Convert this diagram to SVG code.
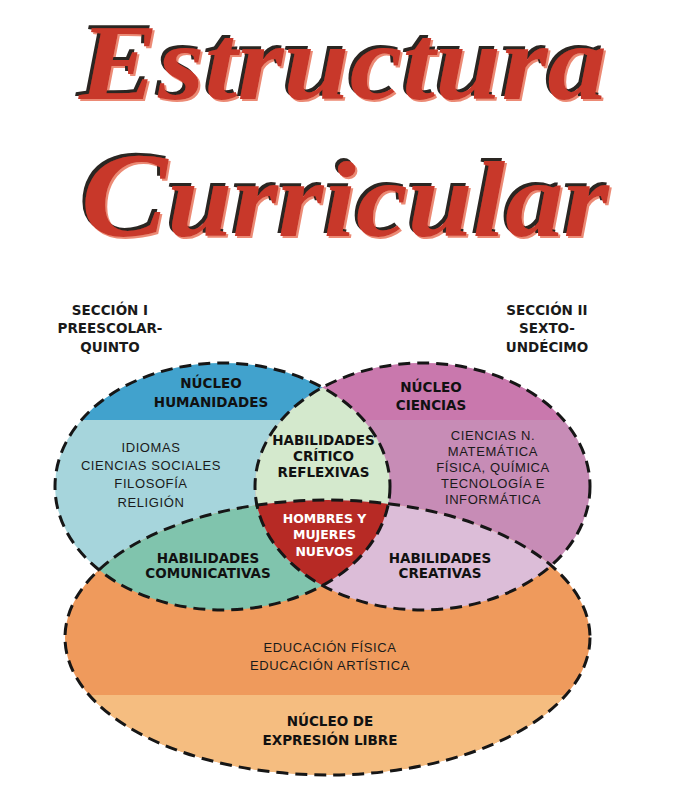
<svg xmlns="http://www.w3.org/2000/svg" width="680" height="797" viewBox="0 0 680 797">
<style>
.title{font-family:"Liberation Serif",serif;font-weight:bold;font-style:italic;font-size:108px;fill:#c8392a;filter:url(#sh)}
.sec{font-family:"DejaVu Sans","Liberation Sans",sans-serif;font-weight:bold;font-size:13.5px;fill:#1a1a1a;text-anchor:middle}
.hd{font-family:"DejaVu Sans","Liberation Sans",sans-serif;font-weight:bold;font-size:13.5px;fill:#111;text-anchor:middle}
.bd{font-family:"Liberation Sans",sans-serif;font-size:13px;letter-spacing:0.6px;fill:#1a1a1a;text-anchor:middle}
.wt{font-family:"DejaVu Sans","Liberation Sans",sans-serif;font-weight:bold;font-size:12.5px;fill:#fff;text-anchor:middle}
.dash{fill:none;stroke:#161616;stroke-width:3;stroke-dasharray:12 7}
</style>
<defs>
<filter id="sh" x="-5%" y="-10%" width="110%" height="125%">
<feOffset in="SourceAlpha" dx="2" dy="2" result="o2"/>
<feFlood flood-color="#ec8a74" result="f2"/>
<feComposite in="f2" in2="o2" operator="in" result="s2"/>
<feOffset in="SourceAlpha" dx="-3" dy="-3" result="o1"/>
<feFlood flood-color="#2b2522" result="f1"/>
<feComposite in="f1" in2="o1" operator="in" result="s1"/>
<feMerge><feMergeNode in="s2"/><feMergeNode in="s1"/><feMergeNode in="SourceGraphic"/></feMerge>
</filter>
<clipPath id="cL"><ellipse cx="222.5" cy="486.5" rx="167.5" ry="123.5"/></clipPath>
<clipPath id="cR"><ellipse cx="422.5" cy="486.5" rx="167.5" ry="123.5"/></clipPath>
<clipPath id="cB"><ellipse cx="327.5" cy="637.5" rx="262.5" ry="137.5"/></clipPath>
</defs>
<rect width="680" height="797" fill="#fff"/>
<g id="title">
<text class="title" x="79" y="99" textLength="528" lengthAdjust="spacingAndGlyphs">Estructura</text>
<text class="title" x="81" y="236" textLength="528" lengthAdjust="spacingAndGlyphs"><tspan font-size="120">C</tspan>urricular</text>
</g>
<g id="seccion-1">
<text class="sec" x="110" y="315">SECCIÓN I</text>
<text class="sec" x="110" y="333">PREESCOLAR-</text>
<text class="sec" x="110" y="352">QUINTO</text>
</g>
<g id="seccion-2">
<text class="sec" x="547" y="315">SECCIÓN II</text>
<text class="sec" x="547" y="333">SEXTO-</text>
<text class="sec" x="547" y="352">UNDÉCIMO</text>
</g>
<g id="nucleo-humanidades">
<ellipse cx="222.5" cy="486.5" rx="167.5" ry="123.5" fill="#a6d5dc"/>
<rect x="40" y="350" width="360" height="70" fill="#41a2cd" clip-path="url(#cL)"/>
</g>
<g id="nucleo-ciencias">
<ellipse cx="422.5" cy="486.5" rx="167.5" ry="123.5" fill="#c78cb6"/>
<rect x="250" y="350" width="360" height="70" fill="#c978ad" clip-path="url(#cR)"/>
</g>
<g id="nucleo-expresion-libre">
<ellipse cx="327.5" cy="637.5" rx="262.5" ry="137.5" fill="#ef9a5c"/>
<rect x="60" y="695" width="540" height="90" fill="#f5bd80" clip-path="url(#cB)"/>
</g>
<g id="habilidades-critico">
<ellipse cx="222.5" cy="486.5" rx="167.5" ry="123.5" fill="#d4e9cd" clip-path="url(#cR)"/>
</g>
<g id="habilidades-comunicativas">
<ellipse cx="222.5" cy="486.5" rx="167.5" ry="123.5" fill="#80c4ad" clip-path="url(#cB)"/>
</g>
<g id="habilidades-creativas">
<ellipse cx="422.5" cy="486.5" rx="167.5" ry="123.5" fill="#dcbdd8" clip-path="url(#cB)"/>
</g>
<g id="hombres-mujeres">
<g clip-path="url(#cB)"><ellipse cx="222.5" cy="486.5" rx="167.5" ry="123.5" fill="#b72a25" clip-path="url(#cR)"/></g>
</g>
<g id="connectors">
<ellipse class="dash" cx="222.5" cy="486.5" rx="167.5" ry="123.5"/>
<ellipse class="dash" cx="422.5" cy="486.5" rx="167.5" ry="123.5"/>
<ellipse class="dash" cx="327.5" cy="637.5" rx="262.5" ry="137.5"/>
</g>
<g id="labels">
<text class="hd" x="211" y="388">NÚCLEO</text>
<text class="hd" x="211" y="407">HUMANIDADES</text>
<text class="bd" x="151" y="452">IDIOMAS</text>
<text class="bd" x="151" y="470">CIENCIAS SOCIALES</text>
<text class="bd" x="151" y="488">FILOSOFÍA</text>
<text class="bd" x="151" y="507">RELIGIÓN</text>
<text class="hd" x="431" y="392">NÚCLEO</text>
<text class="hd" x="431" y="410">CIENCIAS</text>
<text class="bd" x="493" y="440">CIENCIAS N.</text>
<text class="bd" x="493" y="456">MATEMÁTICA</text>
<text class="bd" x="493" y="472">FÍSICA, QUÍMICA</text>
<text class="bd" x="493" y="488">TECNOLOGÍA E</text>
<text class="bd" x="493" y="504">INFORMÁTICA</text>
<text class="hd" x="323.5" y="445" font-size="10.3">HABILIDADES</text>
<text class="hd" x="323.5" y="461" font-size="10.3">CRÍTICO</text>
<text class="hd" x="323.5" y="477" font-size="10.3">REFLEXIVAS</text>
<text class="wt" x="324.5" y="523">HOMBRES Y</text>
<text class="wt" x="324.5" y="539">MUJERES</text>
<text class="wt" x="324.5" y="556">NUEVOS</text>
<text class="hd" x="208" y="563" font-size="11.5">HABILIDADES</text>
<text class="hd" x="208" y="578" font-size="11.5">COMUNICATIVAS</text>
<text class="hd" x="440" y="563" font-size="11.5">HABILIDADES</text>
<text class="hd" x="440" y="578" font-size="11.5">CREATIVAS</text>
<text class="bd" x="330" y="652">EDUCACIÓN FÍSICA</text>
<text class="bd" x="330" y="670">EDUCACIÓN ARTÍSTICA</text>
<text class="hd" x="330" y="726" font-size="15">NÚCLEO DE</text>
<text class="hd" x="330" y="745" font-size="15">EXPRESIÓN LIBRE</text>
</g>
</svg>
